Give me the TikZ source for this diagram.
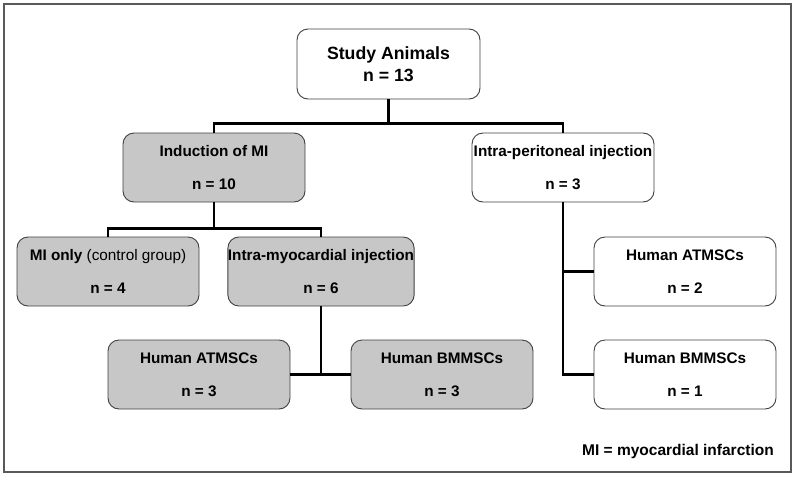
\documentclass[tikz,border=0pt]{standalone}
\usepackage{fontspec}
\setmainfont{Liberation Sans}
\begin{document}
\begin{tikzpicture}[x=1pt,y=-1pt,
  box/.style={draw=black!75, line width=0.9pt, rounded corners=11pt,
    minimum width=182pt, minimum height=69pt, inner sep=0pt, align=center,
    font=\fontsize{15.3}{17}\selectfont\bfseries},
  graybox/.style={box, fill=black!22},
  whitebox/.style={box, fill=white},
  conn/.style={line width=2.6pt, black}]
\useasboundingbox (0,0) rectangle (797,477);
\draw[black!65, line width=1.2pt] (4,4) rectangle (791,472);

\node[whitebox, minimum width=183pt, minimum height=70pt,
  font=\fontsize{17.7}{22}\selectfont\bfseries] (study) at (388.5,64) {Study Animals\\n = 13};
\node[graybox] (ind) at (214,167.5) {Induction of MI\\[16pt]n = 10};
\node[whitebox] (ip) at (563,167.5) {Intra-peritoneal injection\\[16pt]n = 3};
\node[graybox] (mionly) at (108,271.5) {MI only \mdseries(control group)\\[16pt]\bfseries n = 4};
\node[graybox] (im) at (321,271.5) {Intra-myocardial injection\\[16pt]n = 6};
\node[graybox] (ha) at (199,374.5) {Human ATMSCs\\[16pt]n = 3};
\node[graybox] (hb) at (442,374.5) {Human BMMSCs\\[16pt]n = 3};
\node[whitebox] (ra) at (685,271.5) {Human ATMSCs\\[16pt]n = 2};
\node[whitebox] (rb) at (685,374.5) {Human BMMSCs\\[16pt]n = 1};

\node[anchor=east, inner sep=0pt, font=\fontsize{15.5}{18}\selectfont\bfseries] (legend) at (774,451) {MI = myocardial infarction};

\draw[conn] (study.south) -- ++(0,24) -| (ind.north);
\draw[conn] (study.south) -- ++(0,24) -| (ip.north);
\draw[conn] (ind.south) -- ++(0,26) -| (mionly.north);
\draw[conn] (ind.south) -- ++(0,26) -| (im.north);
\draw[conn] (ha.east) -- (hb.west);
\draw[conn] (im.south) -- (im.south |- ha.east);
\draw[conn] (ip.south) |- (ra.west);
\draw[conn] (ip.south) |- (rb.west);
\end{tikzpicture}
\end{document}
